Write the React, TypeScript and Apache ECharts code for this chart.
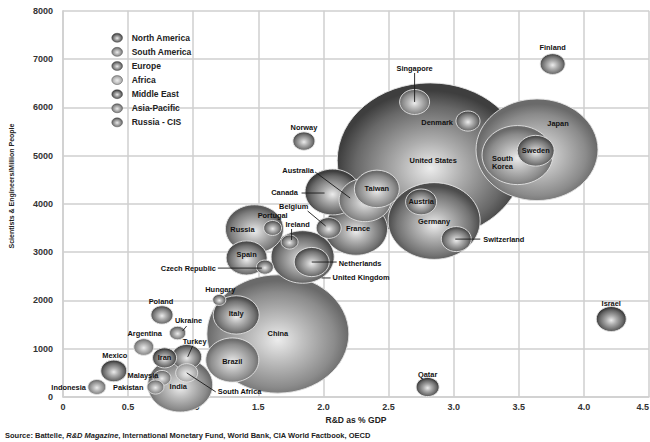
import React, { useEffect, useRef } from 'react';
import * as echarts from 'echarts';

// ---------- data ----------
const regions = ['North America', 'South America', 'Europe', 'Africa', 'Middle East', 'Asia-Pacific', 'Russia - CIS'];

const countryNames = [
  'United States', 'Canada', 'Mexico',
  'Brazil', 'Argentina',
  'Finland', 'Sweden', 'Denmark', 'Norway', 'Germany', 'Austria', 'Switzerland', 'France', 'Belgium',
  'Netherlands', 'United Kingdom', 'Ireland', 'Portugal', 'Spain', 'Czech Republic', 'Hungary', 'Italy',
  'Poland', 'Turkey',
  'South Africa',
  'Israel', 'Qatar', 'Iran',
  'Japan', 'South Korea', 'China', 'India', 'Taiwan', 'Singapore', 'Australia', 'Malaysia', 'Pakistan', 'Indonesia',
  'Russia', 'Ukraine',
];
const countryRegion = [
  0, 0, 0,
  1, 1,
  2, 2, 2, 2, 2, 2, 2, 2, 2,
  2, 2, 2, 2, 2, 2, 2, 2,
  2, 2,
  3,
  4, 4, 4,
  5, 5, 5, 5, 5, 5, 5, 5, 5, 5,
  6, 6,
];
// R&D as % of GDP
const rdShare = [
  2.82, 2.07, 0.39,
  1.30, 0.62,
  3.76, 3.63, 3.11, 1.85, 2.85, 2.75, 3.02, 2.25, 2.04,
  1.91, 1.84, 1.74, 1.61, 1.41, 1.55, 1.20, 1.33,
  0.76, 0.95,
  0.95,
  4.21, 2.80, 0.78,
  3.64, 3.49, 1.65, 0.90, 2.41, 2.70, 2.32, 0.76, 0.71, 0.26,
  1.47, 0.88,
];
// Scientists & engineers per million people
const scientists = [
  4900, 4245, 540,
  766, 1035,
  6895, 5100, 5715, 5300, 3645, 4040, 3270, 3480, 3500,
  2795, 2900, 3210, 3500, 2880, 2690, 2010, 1700,
  1700, 830,
  500,
  1615, 207, 810,
  5120, 5010, 1305, 250, 4310, 6110, 4080, 395, 207, 207,
  3480, 1325,
];
// R&D spending (bubble size, billions US$)
const spending = [
  400, 35, 7.8,
  32.5, 4.6,
  7.2, 15.8, 6.7, 5.6, 98, 11.1, 10.4, 46, 7.2,
  14.2, 46, 3.3, 3.7, 19.4, 3.3, 2.0, 24.5,
  5.6, 10.4,
  5.6,
  10.4, 6.1, 6.7,
  172, 58, 233, 48.8, 23.4, 10.4, 31.3, 3.7, 3.3, 3.7,
  38.9, 3.0,
];
const xTicks = [0, 0.5, 1.0, 1.5, 2.0, 2.5, 3.0, 3.5, 4.0, 4.5];

// ---------- style / layout ----------
const SIZE_K = 9.3;
const ASPECT = 1.2;
const regionEdge = ['#3e3e3e', '#6e6e6e', '#4c4c4c', '#9a9a9a', '#3a3a3a', '#6a6a6a', '#5a5a5a'];
const FONT = '"Liberation Sans", Arial, sans-serif';

// label offsets relative to bubble centre: [dx, dy, align, line]
type LabelCfg = { dx: number; dy: number; align?: string; line?: [number, number, number, number] };
const labelLayout: Record<string, LabelCfg> = {
  'Finland': { dx: 0, dy: -17 },
  'Singapore': { dx: 0, dy: -33, line: [0, -29, 0, 0] },
  'Denmark': { dx: -15, dy: 1, align: 'right' },
  'Japan': { dx: 21, dy: -26 },
  'United States': { dx: 3, dy: 0 },
  'South Korea': { dx: -15, dy: 7 },
  'Sweden': { dx: 0, dy: 0 },
  'Norway': { dx: 0, dy: -14 },
  'Australia': { dx: -67, dy: -29, line: [-50, -28, -15, -2] },
  'Taiwan': { dx: 0, dy: 0 },
  'Canada': { dx: -48, dy: 0, line: [-31, 1, -8, 1] },
  'Austria': { dx: 0, dy: 0 },
  'Germany': { dx: 0, dy: 1 },
  'Switzerland': { dx: 27, dy: 0, align: 'left', line: [-1, 0, 24, 0] },
  'Belgium': { dx: -35, dy: -21, line: [-21, -17, -3, -2] },
  'France': { dx: 2, dy: 0 },
  'Portugal': { dx: 0, dy: -12 },
  'Russia': { dx: -12, dy: 1 },
  'Ireland': { dx: 8, dy: -17, line: [2, -13, 2, -2] },
  'Netherlands': { dx: 27, dy: 1, align: 'left', line: [0, 0, 25, 0] },
  'United Kingdom': { dx: 30, dy: 21, align: 'left', line: [19, 21, 28, 21] },
  'Spain': { dx: 0, dy: -3 },
  'Czech Republic': { dx: -49, dy: 1, align: 'right', line: [-47, 1, -3, 1] },
  'Hungary': { dx: 1, dy: -10 },
  'Italy': { dx: 0, dy: -1 },
  'China': { dx: 0, dy: 0 },
  'Brazil': { dx: 0, dy: 1 },
  'India': { dx: -2, dy: 2 },
  'South Africa': { dx: 31, dy: 19, align: 'left', line: [0, 0, 29, 19] },
  'Turkey': { dx: 8, dy: -15, line: [6, -11, 1, 0] },
  'Iran': { dx: 0, dy: 0 },
  'Ukraine': { dx: 11, dy: -13, line: [9, -7, 5, -2] },
  'Poland': { dx: -1, dy: -13 },
  'Argentina': { dx: 1, dy: -14 },
  'Mexico': { dx: 1, dy: -15 },
  'Malaysia': { dx: -19, dy: -2 },
  'Pakistan': { dx: -12, dy: 0, align: 'right' },
  'Indonesia': { dx: -11, dy: 0, align: 'right' },
  'Qatar': { dx: 0, dy: -13 },
  'Israel': { dx: 0, dy: -16 },
};

function mix(hex: string, t: number): string {
  const n = parseInt(hex.slice(1), 16);
  const r = (n >> 16) & 255, g = (n >> 8) & 255, b = n & 255;
  const f = (c: number) => Math.round(c + (255 - c) * t);
  return `rgb(${f(r)},${f(g)},${f(b)})`;
}
function bubbleFill(edge: string) {
  return {
    type: 'radial', x: 0.5, y: 0.55, r: 0.5,
    colorStops: [
      { offset: 0, color: '#ececec' },
      { offset: 0.35, color: mix(edge, 0.58) },
      { offset: 0.8, color: mix(edge, 0.22) },
      { offset: 1, color: edge },
    ],
  };
}

const ELLIPSE_ICON = 'path://M0,50 A60,50 0 1,1 120,50 A60,50 0 1,1 0,50 Z';

export default function App() {
  const ref = useRef<HTMLDivElement>(null);
  useEffect(() => {
    document.body.style.margin = '0';
    const chart = echarts.init(ref.current!, null, { renderer: 'svg' });

    const bubbleSeries = regions.map((reg, ri) => {
      const data: any[] = [];
      countryNames.forEach((n, i) => {
        if (countryRegion[i] === ri) data.push({ name: n, value: [rdShare[i], scientists[i], spending[i]] });
      });
      const fill = bubbleFill(regionEdge[ri]);
      return {
        type: 'custom',
        name: reg,
        data,
        itemStyle: { color: fill },
        renderItem: (params: any, api: any) => {
          const p = api.coord([api.value(0), api.value(1)]);
          const w = Math.sqrt(api.value(2)) * SIZE_K;
          const h = w / ASPECT;
          return {
            type: 'ellipse',
            z2: Math.round(1000 - api.value(2)),
            shape: { cx: p[0], cy: p[1], rx: w / 2, ry: h / 2 },
            style: { fill, stroke: '#e4e4e4', lineWidth: 0.9 },
          };
        },
      };
    });

    const labelData = countryNames.map((n, i) => ({ name: n, value: [rdShare[i], scientists[i]] }));
    const labelSeries = {
      type: 'custom',
      name: 'labels',
      z: 10,
      silent: true,
      data: labelData,
      renderItem: (params: any, api: any) => {
        const p = api.coord([api.value(0), api.value(1)]);
        const name = countryNames[params.dataIndex];
        const cfg = labelLayout[name] || { dx: 0, dy: 0 };
        const children: any[] = [];
        if (cfg.line) {
          const l = cfg.line;
          children.push({
            type: 'line',
            shape: { x1: p[0] + l[0], y1: p[1] + l[1], x2: p[0] + l[2], y2: p[1] + l[3] },
            style: { stroke: '#1a1a1a', lineWidth: 0.9 },
          });
        }
        const align = cfg.align || 'center';
        children.push({
          type: 'text',
          x: p[0] + cfg.dx,
          y: p[1] + cfg.dy,
          style: {
            text: name === 'South Korea' ? 'South\nKorea' : name,
            fill: '#111111',
            font: `bold 7.4px ${FONT}`,
            lineHeight: 8,
            align, verticalAlign: 'middle',
            textAlign: align, textVerticalAlign: 'middle',
          },
        });
        return { type: 'group', children };
      },
    };

    const option: any = {
      animation: false,
      backgroundColor: '#ffffff',
      textStyle: { fontFamily: FONT },
      grid: { left: 63, right: 1, top: 10.7, bottom: 45, outerBoundsMode: 'none', containLabel: false },
      legend: {
        data: regions,
        orient: 'vertical',
        left: 111.5,
        top: 33,
        padding: 0,
        itemWidth: 11,
        itemHeight: 9,
        itemGap: 4.6,
        icon: ELLIPSE_ICON,
        itemStyle: { borderColor: '#555', borderWidth: 0.5 },
        textStyle: { fontSize: 8.5, fontWeight: 'bold', color: '#222', lineHeight: 9, padding: [0, 0, 0, 4], fontFamily: FONT },
        selectedMode: false,
      },
      xAxis: {
        type: 'value',
        min: 0, max: 4.5, interval: 0.5,
        name: 'R&D as % GDP',
        nameLocation: 'middle',
        nameGap: 17,
        nameTextStyle: { fontSize: 8.5, fontWeight: 'bold', color: '#222', fontFamily: FONT },
        axisLine: { show: true, lineStyle: { color: '#cfcfcf', width: 1.5 } },
        axisTick: { show: false },
        axisLabel: {
          margin: 5, fontSize: 9, fontWeight: 'bold', color: '#333', fontFamily: FONT,
          alignMaxLabel: 'right',
          formatter: (v: number) => {
            const t = xTicks.find((x) => Math.abs(x - v) < 1e-6);
            return t === 0 ? '0' : (t ?? v).toFixed(1);
          },
        },
        splitLine: { show: true, lineStyle: { color: '#cfcfcf', width: 1.5 } },
      },
      yAxis: {
        type: 'value',
        min: 0, max: 8000, interval: 1000,
        axisLine: { show: true, lineStyle: { color: '#cfcfcf', width: 1.5 } },
        axisTick: { show: false },
        axisLabel: {
          margin: 10, fontSize: 9, fontWeight: 'bold', color: '#333', fontFamily: FONT,
          formatter: (v: number) => String(Math.round(v)),
        },
        splitLine: { show: true, lineStyle: { color: '#cfcfcf', width: 1.5 } },
      },
      graphic: [
        {
          type: 'text',
          x: 11, y: 186,
          rotation: Math.PI / 2,
          style: {
            text: 'Scientists & Engineers/Million People',
            font: `bold 7px ${FONT}`,
            fill: '#222',
            align: 'center', verticalAlign: 'middle',
            textAlign: 'center', textVerticalAlign: 'middle',
          },
        },
        {
          type: 'text',
          left: 5, top: 431,
          style: {
            text: '{a|Source: Battelle, }{b|R&D Magazine}{a|, International Monetary Fund, World Bank, CIA World Factbook, OECD}',
            rich: {
              a: { fontSize: 7.5, fontWeight: 'bold', fill: '#222', fontFamily: FONT },
              b: { fontSize: 7.5, fontWeight: 'bold', fontStyle: 'italic', fill: '#222', fontFamily: FONT },
            },
          },
        },
      ],
      series: [...bubbleSeries, labelSeries],
    };
    chart.setOption(option);
    return () => chart.dispose();
  }, []);
  return <div ref={ref} style={{ width: 650, height: 442 }} />;
}
